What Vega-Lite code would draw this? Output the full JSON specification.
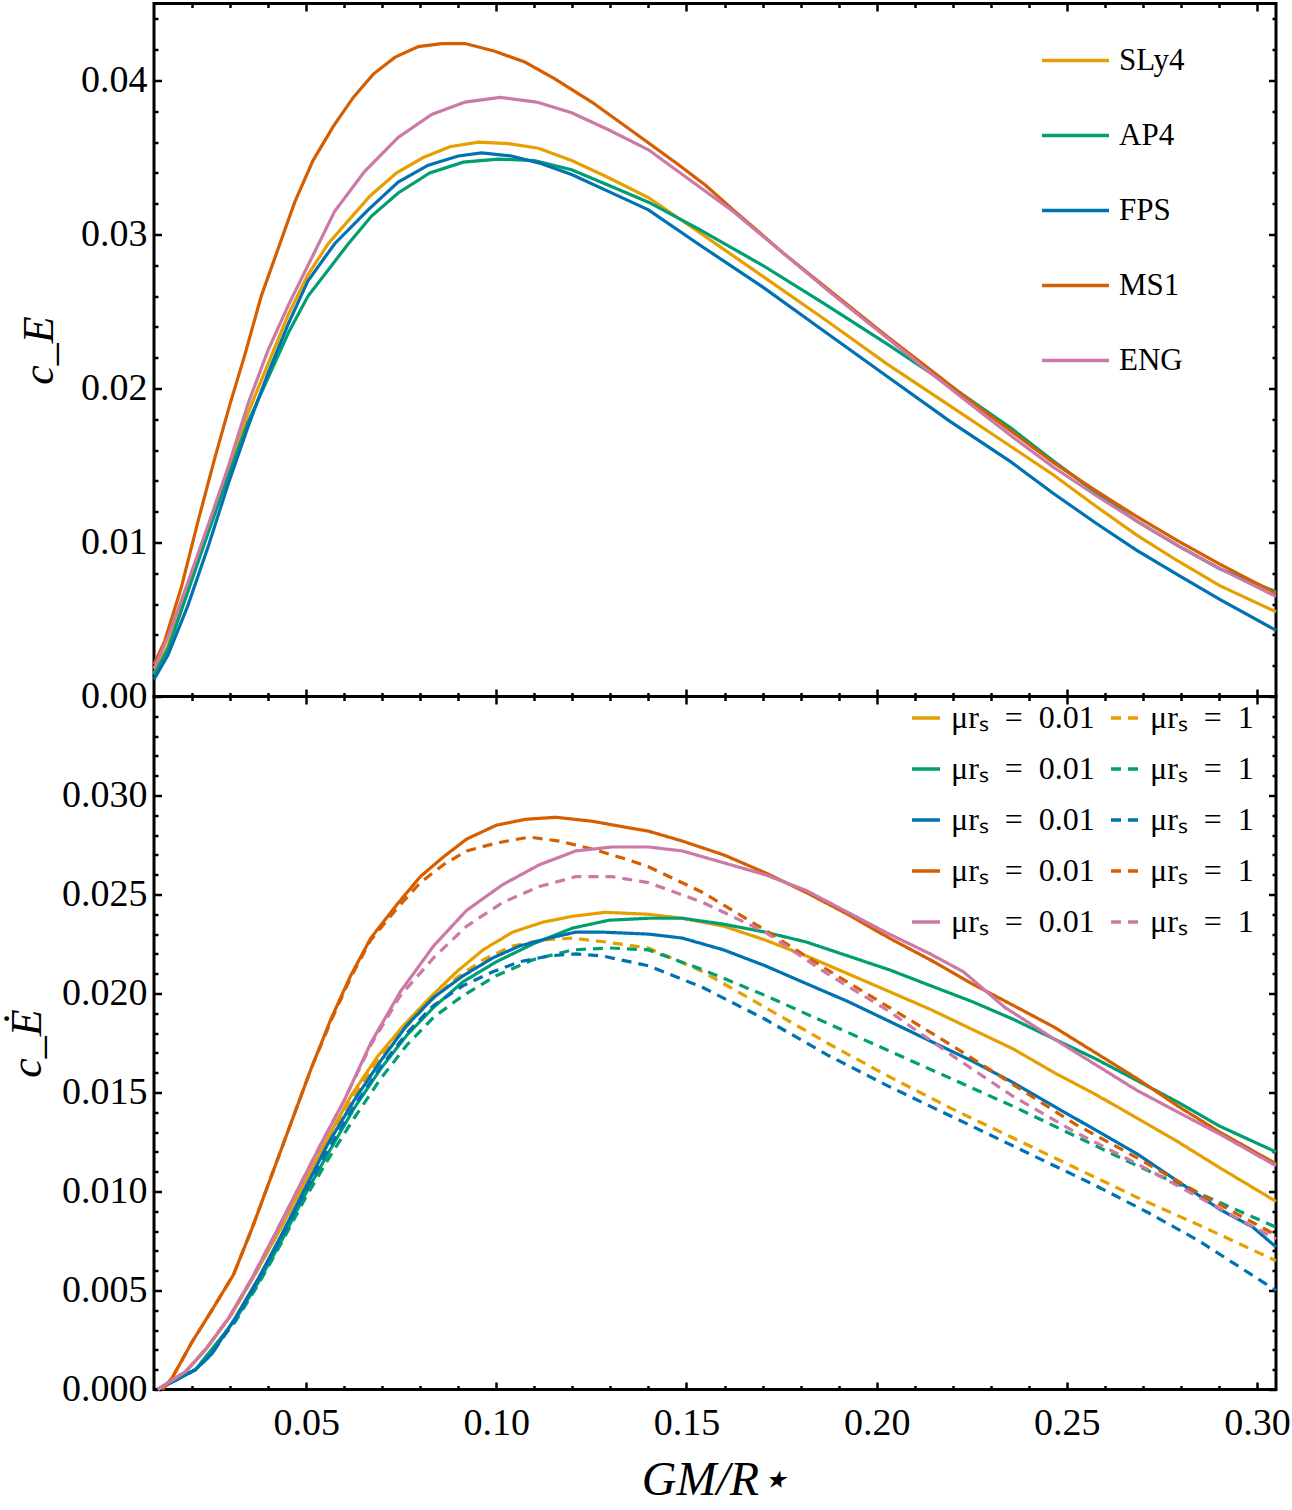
{
  "$schema": "https://vega.github.io/schema/vega-lite/v6.json",
  "padding": {"left": 4, "top": 0.5, "right": 5, "bottom": 5},
  "background": "white",
  "spacing": 0,
  "bounds": "flush",
  "config": {
    "view": {"stroke": "black", "strokeWidth": 3},
    "font": "Liberation Serif",
    "axis": {"grid": false, "domain": false, "labelFont": "Liberation Serif", "labelFontSize": 38, "labelColor": "black", "tickColor": "black", "titleColor": "black", "titleFont": "Liberation Serif", "titleFontWeight": "normal", "labelFlush": false, "labelOverlap": false},
    "legend": {"labelFont": "Liberation Serif", "labelColor": "black", "title": null, "padding": 0}
  },
  "resolve": {"scale": {"x": "independent", "y": "independent", "color": "independent", "strokeDash": "independent"}},
  "datasets": {
    "top": [
      {"eos":"SLy4","x":0.010,"v":0.0015},{"eos":"SLy4","x":0.0137,"v":0.0033},{"eos":"SLy4","x":0.0189,"v":0.0071},{"eos":"SLy4","x":0.0242,"v":0.0108},{"eos":"SLy4","x":0.0295,"v":0.0146},{"eos":"SLy4","x":0.0347,"v":0.0184},{"eos":"SLy4","x":0.040,"v":0.0216},{"eos":"SLy4","x":0.0453,"v":0.0248},{"eos":"SLy4","x":0.0505,"v":0.0274},{"eos":"SLy4","x":0.0558,"v":0.0294},{"eos":"SLy4","x":0.0611,"v":0.0309},{"eos":"SLy4","x":0.0668,"v":0.0325},{"eos":"SLy4","x":0.0738,"v":0.0340},{"eos":"SLy4","x":0.0808,"v":0.0350},{"eos":"SLy4","x":0.0878,"v":0.0357},{"eos":"SLy4","x":0.0953,"v":0.0360},{"eos":"SLy4","x":0.1032,"v":0.0359},{"eos":"SLy4","x":0.1111,"v":0.0356},{"eos":"SLy4","x":0.1198,"v":0.0348},{"eos":"SLy4","x":0.1286,"v":0.0338},{"eos":"SLy4","x":0.140,"v":0.0324},{"eos":"SLy4","x":0.1536,"v":0.0301},{"eos":"SLy4","x":0.170,"v":0.0273},{"eos":"SLy4","x":0.1863,"v":0.0245},{"eos":"SLy4","x":0.2027,"v":0.0216},{"eos":"SLy4","x":0.2191,"v":0.0189},{"eos":"SLy4","x":0.2355,"v":0.0162},{"eos":"SLy4","x":0.2464,"v":0.0144},{"eos":"SLy4","x":0.2574,"v":0.0124},{"eos":"SLy4","x":0.2683,"v":0.0105},{"eos":"SLy4","x":0.2792,"v":0.0088},{"eos":"SLy4","x":0.2902,"v":0.0072},{"eos":"SLy4","x":0.305,"v":0.0055},
      {"eos":"AP4","x":0.010,"v":0.0014},{"eos":"AP4","x":0.0137,"v":0.0031},{"eos":"AP4","x":0.0189,"v":0.0068},{"eos":"AP4","x":0.0242,"v":0.0106},{"eos":"AP4","x":0.0295,"v":0.0143},{"eos":"AP4","x":0.0347,"v":0.0178},{"eos":"AP4","x":0.040,"v":0.0207},{"eos":"AP4","x":0.0453,"v":0.0236},{"eos":"AP4","x":0.0505,"v":0.0260},{"eos":"AP4","x":0.0558,"v":0.0277},{"eos":"AP4","x":0.0611,"v":0.0294},{"eos":"AP4","x":0.0672,"v":0.0312},{"eos":"AP4","x":0.0742,"v":0.0327},{"eos":"AP4","x":0.0825,"v":0.0340},{"eos":"AP4","x":0.0913,"v":0.0347},{"eos":"AP4","x":0.1005,"v":0.0349},{"eos":"AP4","x":0.110,"v":0.0348},{"eos":"AP4","x":0.1198,"v":0.0342},{"eos":"AP4","x":0.1295,"v":0.0332},{"eos":"AP4","x":0.140,"v":0.0321},{"eos":"AP4","x":0.1536,"v":0.0303},{"eos":"AP4","x":0.170,"v":0.0280},{"eos":"AP4","x":0.1863,"v":0.0255},{"eos":"AP4","x":0.2027,"v":0.0229},{"eos":"AP4","x":0.2191,"v":0.0202},{"eos":"AP4","x":0.2355,"v":0.0174},{"eos":"AP4","x":0.2464,"v":0.0153},{"eos":"AP4","x":0.2574,"v":0.0133},{"eos":"AP4","x":0.2683,"v":0.0114},{"eos":"AP4","x":0.2792,"v":0.0098},{"eos":"AP4","x":0.2902,"v":0.0083},{"eos":"AP4","x":0.305,"v":0.0068},
      {"eos":"FPS","x":0.010,"v":0.0011},{"eos":"FPS","x":0.0137,"v":0.0027},{"eos":"FPS","x":0.0189,"v":0.0059},{"eos":"FPS","x":0.0242,"v":0.0097},{"eos":"FPS","x":0.0295,"v":0.0138},{"eos":"FPS","x":0.0347,"v":0.0175},{"eos":"FPS","x":0.040,"v":0.0210},{"eos":"FPS","x":0.0453,"v":0.0242},{"eos":"FPS","x":0.0505,"v":0.0270},{"eos":"FPS","x":0.0575,"v":0.0294},{"eos":"FPS","x":0.0663,"v":0.0316},{"eos":"FPS","x":0.0742,"v":0.0334},{"eos":"FPS","x":0.0821,"v":0.0345},{"eos":"FPS","x":0.090,"v":0.0351},{"eos":"FPS","x":0.0961,"v":0.0353},{"eos":"FPS","x":0.104,"v":0.0351},{"eos":"FPS","x":0.1119,"v":0.0346},{"eos":"FPS","x":0.1198,"v":0.0339},{"eos":"FPS","x":0.1286,"v":0.0329},{"eos":"FPS","x":0.140,"v":0.0316},{"eos":"FPS","x":0.1536,"v":0.0293},{"eos":"FPS","x":0.170,"v":0.0266},{"eos":"FPS","x":0.1863,"v":0.0237},{"eos":"FPS","x":0.2027,"v":0.0208},{"eos":"FPS","x":0.2191,"v":0.0179},{"eos":"FPS","x":0.2355,"v":0.0152},{"eos":"FPS","x":0.2464,"v":0.0132},{"eos":"FPS","x":0.2574,"v":0.0113},{"eos":"FPS","x":0.2683,"v":0.0095},{"eos":"FPS","x":0.2792,"v":0.0079},{"eos":"FPS","x":0.2902,"v":0.0063},{"eos":"FPS","x":0.305,"v":0.0043},
      {"eos":"MS1","x":0.010,"v":0.0021},{"eos":"MS1","x":0.0128,"v":0.0036},{"eos":"MS1","x":0.0172,"v":0.0071},{"eos":"MS1","x":0.0216,"v":0.0114},{"eos":"MS1","x":0.026,"v":0.0155},{"eos":"MS1","x":0.030,"v":0.0190},{"eos":"MS1","x":0.0339,"v":0.0222},{"eos":"MS1","x":0.0382,"v":0.0260},{"eos":"MS1","x":0.0431,"v":0.0294},{"eos":"MS1","x":0.047,"v":0.0321},{"eos":"MS1","x":0.0518,"v":0.0348},{"eos":"MS1","x":0.0571,"v":0.0370},{"eos":"MS1","x":0.0624,"v":0.0389},{"eos":"MS1","x":0.0676,"v":0.0404},{"eos":"MS1","x":0.0733,"v":0.0415},{"eos":"MS1","x":0.0795,"v":0.0422},{"eos":"MS1","x":0.0856,"v":0.0424},{"eos":"MS1","x":0.0918,"v":0.0424},{"eos":"MS1","x":0.0996,"v":0.0419},{"eos":"MS1","x":0.1075,"v":0.0412},{"eos":"MS1","x":0.1154,"v":0.0401},{"eos":"MS1","x":0.1251,"v":0.0386},{"eos":"MS1","x":0.1347,"v":0.0369},{"eos":"MS1","x":0.1481,"v":0.0345},{"eos":"MS1","x":0.155,"v":0.0332},{"eos":"MS1","x":0.1623,"v":0.0316},{"eos":"MS1","x":0.1754,"v":0.0288},{"eos":"MS1","x":0.1885,"v":0.0262},{"eos":"MS1","x":0.2027,"v":0.0234},{"eos":"MS1","x":0.2137,"v":0.0213},{"eos":"MS1","x":0.2246,"v":0.0192},{"eos":"MS1","x":0.2355,"v":0.0172},{"eos":"MS1","x":0.2464,"v":0.0152},{"eos":"MS1","x":0.2574,"v":0.0134},{"eos":"MS1","x":0.2683,"v":0.0117},{"eos":"MS1","x":0.2792,"v":0.0101},{"eos":"MS1","x":0.2902,"v":0.0086},{"eos":"MS1","x":0.305,"v":0.0067},
      {"eos":"ENG","x":0.010,"v":0.0018},{"eos":"ENG","x":0.0137,"v":0.0039},{"eos":"ENG","x":0.0189,"v":0.0074},{"eos":"ENG","x":0.0242,"v":0.0111},{"eos":"ENG","x":0.0295,"v":0.0149},{"eos":"ENG","x":0.0347,"v":0.0190},{"eos":"ENG","x":0.040,"v":0.0225},{"eos":"ENG","x":0.0453,"v":0.0254},{"eos":"ENG","x":0.0505,"v":0.0280},{"eos":"ENG","x":0.0575,"v":0.0315},{"eos":"ENG","x":0.0654,"v":0.0341},{"eos":"ENG","x":0.0742,"v":0.0363},{"eos":"ENG","x":0.083,"v":0.0378},{"eos":"ENG","x":0.0918,"v":0.0386},{"eos":"ENG","x":0.101,"v":0.0389},{"eos":"ENG","x":0.1106,"v":0.0386},{"eos":"ENG","x":0.1198,"v":0.0379},{"eos":"ENG","x":0.1295,"v":0.0368},{"eos":"ENG","x":0.140,"v":0.0355},{"eos":"ENG","x":0.150,"v":0.0337},{"eos":"ENG","x":0.1623,"v":0.0315},{"eos":"ENG","x":0.1754,"v":0.0288},{"eos":"ENG","x":0.1885,"v":0.0261},{"eos":"ENG","x":0.2027,"v":0.0233},{"eos":"ENG","x":0.2137,"v":0.0211},{"eos":"ENG","x":0.2246,"v":0.0190},{"eos":"ENG","x":0.2355,"v":0.0169},{"eos":"ENG","x":0.2464,"v":0.0149},{"eos":"ENG","x":0.2574,"v":0.0131},{"eos":"ENG","x":0.2683,"v":0.0114},{"eos":"ENG","x":0.2792,"v":0.0098},{"eos":"ENG","x":0.2902,"v":0.0083},{"eos":"ENG","x":0.305,"v":0.0065}
    ],
    "bottom": [
      {"series":"SLy4|0.01","x":0.011,"v":0},{"series":"SLy4|0.01","x":0.0183,"v":0.0009},{"series":"SLy4|0.01","x":0.0243,"v":0.0022},{"series":"SLy4|0.01","x":0.0304,"v":0.0038},{"series":"SLy4|0.01","x":0.0365,"v":0.0058},{"series":"SLy4|0.01","x":0.0426,"v":0.0079},{"series":"SLy4|0.01","x":0.0487,"v":0.0101},{"series":"SLy4|0.01","x":0.0548,"v":0.0124},{"series":"SLy4|0.01","x":0.0617,"v":0.0148},{"series":"SLy4|0.01","x":0.0687,"v":0.0168},{"series":"SLy4|0.01","x":0.0757,"v":0.0184},{"series":"SLy4|0.01","x":0.0826,"v":0.0198},{"series":"SLy4|0.01","x":0.0896,"v":0.0211},{"series":"SLy4|0.01","x":0.0965,"v":0.0222},{"series":"SLy4|0.01","x":0.1043,"v":0.0231},{"series":"SLy4|0.01","x":0.1122,"v":0.0236},{"series":"SLy4|0.01","x":0.120,"v":0.0239},{"series":"SLy4|0.01","x":0.1287,"v":0.0241},{"series":"SLy4|0.01","x":0.140,"v":0.0240},{"series":"SLy4|0.01","x":0.1489,"v":0.0238},{"series":"SLy4|0.01","x":0.1598,"v":0.0234},{"series":"SLy4|0.01","x":0.1707,"v":0.0227},{"series":"SLy4|0.01","x":0.1815,"v":0.0219},{"series":"SLy4|0.01","x":0.1924,"v":0.0210},{"series":"SLy4|0.01","x":0.2033,"v":0.0201},{"series":"SLy4|0.01","x":0.2141,"v":0.0192},{"series":"SLy4|0.01","x":0.225,"v":0.0182},{"series":"SLy4|0.01","x":0.2359,"v":0.0172},{"series":"SLy4|0.01","x":0.2467,"v":0.0160},{"series":"SLy4|0.01","x":0.2576,"v":0.0149},{"series":"SLy4|0.01","x":0.2685,"v":0.0137},{"series":"SLy4|0.01","x":0.2793,"v":0.0125},{"series":"SLy4|0.01","x":0.2902,"v":0.0112},{"series":"SLy4|0.01","x":0.305,"v":0.0095},
      {"series":"SLy4|1","x":0.011,"v":0},{"series":"SLy4|1","x":0.0183,"v":0.0009},{"series":"SLy4|1","x":0.0243,"v":0.0022},{"series":"SLy4|1","x":0.0304,"v":0.0038},{"series":"SLy4|1","x":0.0365,"v":0.0058},{"series":"SLy4|1","x":0.0426,"v":0.0079},{"series":"SLy4|1","x":0.0487,"v":0.0101},{"series":"SLy4|1","x":0.0548,"v":0.0123},{"series":"SLy4|1","x":0.0617,"v":0.0146},{"series":"SLy4|1","x":0.0687,"v":0.0166},{"series":"SLy4|1","x":0.0757,"v":0.0182},{"series":"SLy4|1","x":0.0826,"v":0.0196},{"series":"SLy4|1","x":0.0896,"v":0.0208},{"series":"SLy4|1","x":0.0965,"v":0.0217},{"series":"SLy4|1","x":0.1043,"v":0.0224},{"series":"SLy4|1","x":0.1122,"v":0.0227},{"series":"SLy4|1","x":0.120,"v":0.0228},{"series":"SLy4|1","x":0.1287,"v":0.0226},{"series":"SLy4|1","x":0.140,"v":0.0223},{"series":"SLy4|1","x":0.1543,"v":0.0211},{"series":"SLy4|1","x":0.1707,"v":0.0193},{"series":"SLy4|1","x":0.187,"v":0.0175},{"series":"SLy4|1","x":0.2033,"v":0.0158},{"series":"SLy4|1","x":0.2196,"v":0.0142},{"series":"SLy4|1","x":0.2359,"v":0.0127},{"series":"SLy4|1","x":0.2522,"v":0.0112},{"series":"SLy4|1","x":0.2685,"v":0.0097},{"series":"SLy4|1","x":0.2848,"v":0.0083},{"series":"SLy4|1","x":0.305,"v":0.0065},
      {"series":"AP4|0.01","x":0.011,"v":0},{"series":"AP4|0.01","x":0.0209,"v":0.0010},{"series":"AP4|0.01","x":0.0313,"v":0.0035},{"series":"AP4|0.01","x":0.0374,"v":0.0054},{"series":"AP4|0.01","x":0.0435,"v":0.0075},{"series":"AP4|0.01","x":0.0496,"v":0.0098},{"series":"AP4|0.01","x":0.0557,"v":0.0119},{"series":"AP4|0.01","x":0.0626,"v":0.0142},{"series":"AP4|0.01","x":0.0696,"v":0.0162},{"series":"AP4|0.01","x":0.0765,"v":0.0179},{"series":"AP4|0.01","x":0.0835,"v":0.0193},{"series":"AP4|0.01","x":0.0913,"v":0.0206},{"series":"AP4|0.01","x":0.100,"v":0.0216},{"series":"AP4|0.01","x":0.1096,"v":0.0225},{"series":"AP4|0.01","x":0.120,"v":0.0233},{"series":"AP4|0.01","x":0.1296,"v":0.0237},{"series":"AP4|0.01","x":0.140,"v":0.0238},{"series":"AP4|0.01","x":0.1489,"v":0.0238},{"series":"AP4|0.01","x":0.1598,"v":0.0235},{"series":"AP4|0.01","x":0.1707,"v":0.0231},{"series":"AP4|0.01","x":0.1815,"v":0.0226},{"series":"AP4|0.01","x":0.1924,"v":0.0219},{"series":"AP4|0.01","x":0.2033,"v":0.0212},{"series":"AP4|0.01","x":0.2141,"v":0.0204},{"series":"AP4|0.01","x":0.225,"v":0.0196},{"series":"AP4|0.01","x":0.2359,"v":0.0187},{"series":"AP4|0.01","x":0.2467,"v":0.0177},{"series":"AP4|0.01","x":0.2576,"v":0.0167},{"series":"AP4|0.01","x":0.2685,"v":0.0156},{"series":"AP4|0.01","x":0.2793,"v":0.0145},{"series":"AP4|0.01","x":0.2902,"v":0.0133},{"series":"AP4|0.01","x":0.305,"v":0.0120},
      {"series":"AP4|1","x":0.011,"v":0},{"series":"AP4|1","x":0.0209,"v":0.0010},{"series":"AP4|1","x":0.0313,"v":0.0034},{"series":"AP4|1","x":0.0374,"v":0.0053},{"series":"AP4|1","x":0.0435,"v":0.0074},{"series":"AP4|1","x":0.0496,"v":0.0096},{"series":"AP4|1","x":0.0557,"v":0.0116},{"series":"AP4|1","x":0.0626,"v":0.0137},{"series":"AP4|1","x":0.0696,"v":0.0157},{"series":"AP4|1","x":0.0765,"v":0.0174},{"series":"AP4|1","x":0.0835,"v":0.0188},{"series":"AP4|1","x":0.0913,"v":0.0199},{"series":"AP4|1","x":0.100,"v":0.0209},{"series":"AP4|1","x":0.1096,"v":0.0217},{"series":"AP4|1","x":0.120,"v":0.0222},{"series":"AP4|1","x":0.1296,"v":0.0223},{"series":"AP4|1","x":0.140,"v":0.0222},{"series":"AP4|1","x":0.1543,"v":0.0212},{"series":"AP4|1","x":0.1707,"v":0.0199},{"series":"AP4|1","x":0.187,"v":0.0185},{"series":"AP4|1","x":0.2033,"v":0.0171},{"series":"AP4|1","x":0.2196,"v":0.0157},{"series":"AP4|1","x":0.2359,"v":0.0143},{"series":"AP4|1","x":0.2522,"v":0.0128},{"series":"AP4|1","x":0.2685,"v":0.0113},{"series":"AP4|1","x":0.2848,"v":0.0099},{"series":"AP4|1","x":0.305,"v":0.0082},
      {"series":"FPS|0.01","x":0.011,"v":0},{"series":"FPS|0.01","x":0.0209,"v":0.0010},{"series":"FPS|0.01","x":0.0252,"v":0.0018},{"series":"FPS|0.01","x":0.0313,"v":0.0036},{"series":"FPS|0.01","x":0.0374,"v":0.0056},{"series":"FPS|0.01","x":0.0435,"v":0.0078},{"series":"FPS|0.01","x":0.0496,"v":0.0101},{"series":"FPS|0.01","x":0.0557,"v":0.0124},{"series":"FPS|0.01","x":0.0626,"v":0.0146},{"series":"FPS|0.01","x":0.0696,"v":0.0166},{"series":"FPS|0.01","x":0.0765,"v":0.0184},{"series":"FPS|0.01","x":0.0835,"v":0.0198},{"series":"FPS|0.01","x":0.0913,"v":0.0209},{"series":"FPS|0.01","x":0.0991,"v":0.0218},{"series":"FPS|0.01","x":0.1061,"v":0.0224},{"series":"FPS|0.01","x":0.1139,"v":0.0228},{"series":"FPS|0.01","x":0.1209,"v":0.0231},{"series":"FPS|0.01","x":0.1278,"v":0.0231},{"series":"FPS|0.01","x":0.140,"v":0.0230},{"series":"FPS|0.01","x":0.1489,"v":0.0228},{"series":"FPS|0.01","x":0.1598,"v":0.0222},{"series":"FPS|0.01","x":0.1707,"v":0.0214},{"series":"FPS|0.01","x":0.1815,"v":0.0205},{"series":"FPS|0.01","x":0.1924,"v":0.0196},{"series":"FPS|0.01","x":0.2033,"v":0.0186},{"series":"FPS|0.01","x":0.2141,"v":0.0176},{"series":"FPS|0.01","x":0.225,"v":0.0166},{"series":"FPS|0.01","x":0.2359,"v":0.0155},{"series":"FPS|0.01","x":0.2467,"v":0.0143},{"series":"FPS|0.01","x":0.2576,"v":0.0131},{"series":"FPS|0.01","x":0.2685,"v":0.0119},{"series":"FPS|0.01","x":0.2793,"v":0.0105},{"series":"FPS|0.01","x":0.2902,"v":0.0091},{"series":"FPS|0.01","x":0.2989,"v":0.0082},{"series":"FPS|0.01","x":0.305,"v":0.0072},
      {"series":"FPS|1","x":0.011,"v":0},{"series":"FPS|1","x":0.0209,"v":0.0010},{"series":"FPS|1","x":0.0252,"v":0.0018},{"series":"FPS|1","x":0.0313,"v":0.0035},{"series":"FPS|1","x":0.0374,"v":0.0055},{"series":"FPS|1","x":0.0435,"v":0.0077},{"series":"FPS|1","x":0.0496,"v":0.0099},{"series":"FPS|1","x":0.0557,"v":0.0121},{"series":"FPS|1","x":0.0626,"v":0.0143},{"series":"FPS|1","x":0.0696,"v":0.0163},{"series":"FPS|1","x":0.0765,"v":0.0180},{"series":"FPS|1","x":0.0835,"v":0.0194},{"series":"FPS|1","x":0.0913,"v":0.0204},{"series":"FPS|1","x":0.0991,"v":0.0211},{"series":"FPS|1","x":0.1061,"v":0.0216},{"series":"FPS|1","x":0.1139,"v":0.0219},{"series":"FPS|1","x":0.1209,"v":0.0220},{"series":"FPS|1","x":0.1278,"v":0.0219},{"series":"FPS|1","x":0.140,"v":0.0214},{"series":"FPS|1","x":0.1543,"v":0.0203},{"series":"FPS|1","x":0.1707,"v":0.0187},{"series":"FPS|1","x":0.187,"v":0.0169},{"series":"FPS|1","x":0.2033,"v":0.0153},{"series":"FPS|1","x":0.2196,"v":0.0138},{"series":"FPS|1","x":0.2359,"v":0.0123},{"series":"FPS|1","x":0.2467,"v":0.0113},{"series":"FPS|1","x":0.2576,"v":0.0103},{"series":"FPS|1","x":0.2717,"v":0.0089},{"series":"FPS|1","x":0.2848,"v":0.0075},{"series":"FPS|1","x":0.305,"v":0.0050},
      {"series":"MS1|0.01","x":0.0122,"v":0},{"series":"MS1|0.01","x":0.0148,"v":0.0006},{"series":"MS1|0.01","x":0.020,"v":0.0024},{"series":"MS1|0.01","x":0.0252,"v":0.0040},{"series":"MS1|0.01","x":0.0309,"v":0.0058},{"series":"MS1|0.01","x":0.0357,"v":0.0081},{"series":"MS1|0.01","x":0.0409,"v":0.0108},{"series":"MS1|0.01","x":0.0461,"v":0.0135},{"series":"MS1|0.01","x":0.0513,"v":0.0162},{"series":"MS1|0.01","x":0.0565,"v":0.0187},{"series":"MS1|0.01","x":0.0617,"v":0.0209},{"series":"MS1|0.01","x":0.067,"v":0.0228},{"series":"MS1|0.01","x":0.0739,"v":0.0245},{"series":"MS1|0.01","x":0.080,"v":0.0259},{"series":"MS1|0.01","x":0.0861,"v":0.0269},{"series":"MS1|0.01","x":0.0922,"v":0.0278},{"series":"MS1|0.01","x":0.100,"v":0.0285},{"series":"MS1|0.01","x":0.1078,"v":0.0288},{"series":"MS1|0.01","x":0.1157,"v":0.0289},{"series":"MS1|0.01","x":0.1252,"v":0.0287},{"series":"MS1|0.01","x":0.1339,"v":0.0284},{"series":"MS1|0.01","x":0.140,"v":0.0282},{"series":"MS1|0.01","x":0.1489,"v":0.0277},{"series":"MS1|0.01","x":0.1598,"v":0.0270},{"series":"MS1|0.01","x":0.1707,"v":0.0261},{"series":"MS1|0.01","x":0.1815,"v":0.0251},{"series":"MS1|0.01","x":0.1924,"v":0.0240},{"series":"MS1|0.01","x":0.2033,"v":0.0228},{"series":"MS1|0.01","x":0.2141,"v":0.0217},{"series":"MS1|0.01","x":0.225,"v":0.0205},{"series":"MS1|0.01","x":0.2359,"v":0.0194},{"series":"MS1|0.01","x":0.2467,"v":0.0183},{"series":"MS1|0.01","x":0.2576,"v":0.0170},{"series":"MS1|0.01","x":0.2685,"v":0.0157},{"series":"MS1|0.01","x":0.2793,"v":0.0143},{"series":"MS1|0.01","x":0.2902,"v":0.0130},{"series":"MS1|0.01","x":0.305,"v":0.0114},
      {"series":"MS1|1","x":0.0122,"v":0},{"series":"MS1|1","x":0.0148,"v":0.0006},{"series":"MS1|1","x":0.020,"v":0.0024},{"series":"MS1|1","x":0.0252,"v":0.0040},{"series":"MS1|1","x":0.0309,"v":0.0058},{"series":"MS1|1","x":0.0357,"v":0.0081},{"series":"MS1|1","x":0.0409,"v":0.0108},{"series":"MS1|1","x":0.0461,"v":0.0135},{"series":"MS1|1","x":0.0513,"v":0.0162},{"series":"MS1|1","x":0.0565,"v":0.0186},{"series":"MS1|1","x":0.0617,"v":0.0208},{"series":"MS1|1","x":0.067,"v":0.0227},{"series":"MS1|1","x":0.0739,"v":0.0243},{"series":"MS1|1","x":0.080,"v":0.0256},{"series":"MS1|1","x":0.0861,"v":0.0265},{"series":"MS1|1","x":0.0922,"v":0.0272},{"series":"MS1|1","x":0.100,"v":0.0276},{"series":"MS1|1","x":0.1087,"v":0.0279},{"series":"MS1|1","x":0.1165,"v":0.0277},{"series":"MS1|1","x":0.1252,"v":0.0273},{"series":"MS1|1","x":0.1339,"v":0.0268},{"series":"MS1|1","x":0.140,"v":0.0264},{"series":"MS1|1","x":0.1543,"v":0.0251},{"series":"MS1|1","x":0.1707,"v":0.0232},{"series":"MS1|1","x":0.187,"v":0.0212},{"series":"MS1|1","x":0.2033,"v":0.0193},{"series":"MS1|1","x":0.2196,"v":0.0174},{"series":"MS1|1","x":0.2359,"v":0.0154},{"series":"MS1|1","x":0.2522,"v":0.0134},{"series":"MS1|1","x":0.2685,"v":0.0117},{"series":"MS1|1","x":0.2848,"v":0.0099},{"series":"MS1|1","x":0.305,"v":0.0078},
      {"series":"ENG|0.01","x":0.011,"v":0},{"series":"ENG|0.01","x":0.0183,"v":0.0009},{"series":"ENG|0.01","x":0.0235,"v":0.0020},{"series":"ENG|0.01","x":0.0296,"v":0.0036},{"series":"ENG|0.01","x":0.0357,"v":0.0056},{"series":"ENG|0.01","x":0.0417,"v":0.0078},{"series":"ENG|0.01","x":0.0478,"v":0.0101},{"series":"ENG|0.01","x":0.0539,"v":0.0124},{"series":"ENG|0.01","x":0.060,"v":0.0146},{"series":"ENG|0.01","x":0.067,"v":0.0175},{"series":"ENG|0.01","x":0.0748,"v":0.0201},{"series":"ENG|0.01","x":0.0835,"v":0.0224},{"series":"ENG|0.01","x":0.0922,"v":0.0242},{"series":"ENG|0.01","x":0.1017,"v":0.0255},{"series":"ENG|0.01","x":0.1113,"v":0.0265},{"series":"ENG|0.01","x":0.1209,"v":0.0272},{"series":"ENG|0.01","x":0.1304,"v":0.0274},{"series":"ENG|0.01","x":0.140,"v":0.0274},{"series":"ENG|0.01","x":0.1489,"v":0.0272},{"series":"ENG|0.01","x":0.1598,"v":0.0266},{"series":"ENG|0.01","x":0.1707,"v":0.0260},{"series":"ENG|0.01","x":0.1815,"v":0.0252},{"series":"ENG|0.01","x":0.1924,"v":0.0241},{"series":"ENG|0.01","x":0.2033,"v":0.0230},{"series":"ENG|0.01","x":0.2141,"v":0.0220},{"series":"ENG|0.01","x":0.2228,"v":0.0211},{"series":"ENG|0.01","x":0.2337,"v":0.0193},{"series":"ENG|0.01","x":0.2467,"v":0.0177},{"series":"ENG|0.01","x":0.2576,"v":0.0164},{"series":"ENG|0.01","x":0.2685,"v":0.0151},{"series":"ENG|0.01","x":0.2793,"v":0.0140},{"series":"ENG|0.01","x":0.2902,"v":0.0129},{"series":"ENG|0.01","x":0.305,"v":0.0113},
      {"series":"ENG|1","x":0.011,"v":0},{"series":"ENG|1","x":0.0183,"v":0.0009},{"series":"ENG|1","x":0.0235,"v":0.0020},{"series":"ENG|1","x":0.0296,"v":0.0036},{"series":"ENG|1","x":0.0357,"v":0.0056},{"series":"ENG|1","x":0.0417,"v":0.0078},{"series":"ENG|1","x":0.0478,"v":0.0101},{"series":"ENG|1","x":0.0539,"v":0.0124},{"series":"ENG|1","x":0.060,"v":0.0146},{"series":"ENG|1","x":0.067,"v":0.0174},{"series":"ENG|1","x":0.0748,"v":0.0199},{"series":"ENG|1","x":0.0835,"v":0.0218},{"series":"ENG|1","x":0.0922,"v":0.0234},{"series":"ENG|1","x":0.1017,"v":0.0246},{"series":"ENG|1","x":0.1113,"v":0.0254},{"series":"ENG|1","x":0.1209,"v":0.0259},{"series":"ENG|1","x":0.1304,"v":0.0259},{"series":"ENG|1","x":0.140,"v":0.0256},{"series":"ENG|1","x":0.1543,"v":0.0246},{"series":"ENG|1","x":0.1707,"v":0.0231},{"series":"ENG|1","x":0.187,"v":0.0210},{"series":"ENG|1","x":0.2033,"v":0.0191},{"series":"ENG|1","x":0.2196,"v":0.0169},{"series":"ENG|1","x":0.2359,"v":0.0148},{"series":"ENG|1","x":0.2522,"v":0.0130},{"series":"ENG|1","x":0.2685,"v":0.0114},{"series":"ENG|1","x":0.2848,"v":0.0097},{"series":"ENG|1","x":0.305,"v":0.0076}
    ]
  },
  "vconcat": [
    {
      "width": 1122, "height": 693,
      "data": {"name": "top"},
      "resolve": {"axis": {"x": "independent", "y": "independent"}},
      "layer": [
        {
          "mark": {"type": "line", "strokeWidth": 3.2},
          "encoding": {
            "x": {"field": "x", "type": "quantitative", "scale": {"domain": [0.01, 0.305], "nice": false, "zero": false}, "axis": null},
            "y": {"field": "v", "type": "quantitative", "scale": {"domain": [0, 0.045], "nice": false},
                  "axis": {"orient": "left", "ticks": false, "values": [0, 0.01, 0.02, 0.03, 0.04], "format": ".2f", "labelPadding": 7, "title": "c_E", "titleFontStyle": "italic", "titleFontSize": 44, "titlePadding": 19}},
            "color": {"field": "eos", "type": "nominal", "sort": null,
                      "scale": {"domain": ["SLy4", "AP4", "FPS", "MS1", "ENG"], "range": ["#E69F00", "#009E73", "#0072B2", "#D55E00", "#CC79A7"]},
                      "legend": {"orient": "none", "legendX": 886, "legendY": 21.5, "symbolType": "stroke", "symbolSize": 4489, "symbolStrokeWidth": 3.5, "labelFont": "Liberation Serif", "labelFontSize": 31, "labelOffset": 8, "rowPadding": 24, "columns": 1}}
          }
        },
        {
          "mark": {"type": "point", "opacity": 0},
          "encoding": {
            "x": {"field": "x", "type": "quantitative", "scale": {"domain": [0.01, 0.305], "nice": false, "zero": false},
                  "axis": {"orient": "bottom", "values": [0.05, 0.10, 0.15, 0.20, 0.25, 0.30], "labels": false, "tickSize": -7.5, "tickWidth": 2.5, "title": null}},
            "y": {"field": "v", "type": "quantitative", "scale": {"domain": [0, 0.045], "nice": false},
                  "axis": {"orient": "left", "values": [0, 0.01, 0.02, 0.03, 0.04], "labels": false, "tickSize": -7.5, "tickWidth": 2.5, "title": null}}
          }
        },
        {
          "mark": {"type": "point", "opacity": 0},
          "encoding": {
            "x": {"field": "x", "type": "quantitative", "scale": {"domain": [0.01, 0.305], "nice": false, "zero": false},
                  "axis": {"orient": "bottom", "values": [0.02,0.03,0.04,0.06,0.07,0.08,0.09,0.11,0.12,0.13,0.14,0.16,0.17,0.18,0.19,0.21,0.22,0.23,0.24,0.26,0.27,0.28,0.29], "labels": false, "tickSize": -4, "tickWidth": 2.5, "title": null}},
            "y": {"field": "v", "type": "quantitative", "scale": {"domain": [0, 0.045], "nice": false},
                  "axis": {"orient": "left", "values": [0.002,0.004,0.006,0.008,0.012,0.014,0.016,0.018,0.022,0.024,0.026,0.028,0.032,0.034,0.036,0.038,0.042,0.044], "labels": false, "tickSize": -4, "tickWidth": 2.5, "title": null}}
          }
        },
        {
          "mark": {"type": "point", "opacity": 0},
          "encoding": {
            "x": {"field": "x", "type": "quantitative", "scale": {"domain": [0.01, 0.305], "nice": false, "zero": false},
                  "axis": {"orient": "top", "values": [0.05, 0.10, 0.15, 0.20, 0.25, 0.30], "labels": false, "tickSize": -7.5, "tickWidth": 2.5, "title": null}},
            "y": {"field": "v", "type": "quantitative", "scale": {"domain": [0, 0.045], "nice": false},
                  "axis": {"orient": "right", "values": [0, 0.01, 0.02, 0.03, 0.04], "labels": false, "tickSize": -7.5, "tickWidth": 2.5, "title": null}}
          }
        },
        {
          "mark": {"type": "point", "opacity": 0},
          "encoding": {
            "x": {"field": "x", "type": "quantitative", "scale": {"domain": [0.01, 0.305], "nice": false, "zero": false},
                  "axis": {"orient": "top", "values": [0.02,0.03,0.04,0.06,0.07,0.08,0.09,0.11,0.12,0.13,0.14,0.16,0.17,0.18,0.19,0.21,0.22,0.23,0.24,0.26,0.27,0.28,0.29], "labels": false, "tickSize": -4, "tickWidth": 2.5, "title": null}},
            "y": {"field": "v", "type": "quantitative", "scale": {"domain": [0, 0.045], "nice": false},
                  "axis": {"orient": "right", "values": [0.002,0.004,0.006,0.008,0.012,0.014,0.016,0.018,0.022,0.024,0.026,0.028,0.032,0.034,0.036,0.038,0.042,0.044], "labels": false, "tickSize": -4, "tickWidth": 2.5, "title": null}}
          }
        }
      ]
    },
    {
      "width": 1122, "height": 693,
      "data": {"name": "bottom"},
      "resolve": {"axis": {"x": "independent", "y": "independent"}},
      "layer": [
        {
          "mark": {"type": "line", "strokeWidth": 3.2},
          "encoding": {
            "x": {"field": "x", "type": "quantitative", "scale": {"domain": [0.01, 0.305], "nice": false, "zero": false},
                  "axis": {"orient": "bottom", "ticks": false, "values": [0.05, 0.10, 0.15, 0.20, 0.25, 0.30], "format": ".2f", "labelPadding": 15, "title": "GM/R⋆", "titleFontStyle": "italic", "titleFontSize": 48, "titlePadding": 14}},
            "y": {"field": "v", "type": "quantitative", "scale": {"domain": [0, 0.035], "nice": false},
                  "axis": {"orient": "left", "ticks": false, "values": [0, 0.005, 0.01, 0.015, 0.02, 0.025, 0.03], "format": ".3f", "labelPadding": 7, "title": "c_Ė", "titleFontStyle": "italic", "titleFontSize": 44, "titlePadding": 12}},
            "color": {"field": "series", "type": "nominal", "sort": null,
                      "scale": {"domain": ["SLy4|0.01", "SLy4|1", "AP4|0.01", "AP4|1", "FPS|0.01", "FPS|1", "MS1|0.01", "MS1|1", "ENG|0.01", "ENG|1"],
                                "range": ["#E69F00", "#E69F00", "#009E73", "#009E73", "#0072B2", "#0072B2", "#D55E00", "#D55E00", "#CC79A7", "#CC79A7"]},
                      "legend": {"orient": "none", "legendX": 756, "legendY": 5.5, "direction": "horizontal", "columns": 2, "symbolType": "stroke", "symbolSize": 784, "symbolStrokeWidth": 3.5, "labelFont": "Liberation Serif", "labelFontSize": 32, "labelOffset": 9, "rowPadding": 19, "columnPadding": 9,
                                 "labelExpr": "slice(datum.value, -2) == '|1' ? 'μrₛ\u2002=\u20021' : 'μrₛ\u2002=\u20020.01'"}},
            "strokeDash": {"field": "series", "type": "nominal", "sort": null,
                      "scale": {"domain": ["SLy4|0.01", "SLy4|1", "AP4|0.01", "AP4|1", "FPS|0.01", "FPS|1", "MS1|0.01", "MS1|1", "ENG|0.01", "ENG|1"],
                                "range": [[1, 0], [10, 7], [1, 0], [10, 7], [1, 0], [10, 7], [1, 0], [10, 7], [1, 0], [10, 7]]},
                      "legend": {"orient": "none", "legendX": 756, "legendY": 5.5, "direction": "horizontal", "columns": 2, "symbolType": "stroke", "symbolSize": 784, "symbolStrokeWidth": 3.5, "labelFont": "Liberation Serif", "labelFontSize": 32, "labelOffset": 9, "rowPadding": 19, "columnPadding": 9,
                                 "labelExpr": "slice(datum.value, -2) == '|1' ? 'μrₛ\u2002=\u20021' : 'μrₛ\u2002=\u20020.01'"}}
          }
        },
        {
          "mark": {"type": "point", "opacity": 0},
          "encoding": {
            "x": {"field": "x", "type": "quantitative", "scale": {"domain": [0.01, 0.305], "nice": false, "zero": false},
                  "axis": {"orient": "bottom", "values": [0.05, 0.10, 0.15, 0.20, 0.25, 0.30], "labels": false, "tickSize": -7.5, "tickWidth": 2.5, "title": null}},
            "y": {"field": "v", "type": "quantitative", "scale": {"domain": [0, 0.035], "nice": false},
                  "axis": {"orient": "left", "values": [0, 0.005, 0.01, 0.015, 0.02, 0.025, 0.03], "labels": false, "tickSize": -7.5, "tickWidth": 2.5, "title": null}}
          }
        },
        {
          "mark": {"type": "point", "opacity": 0},
          "encoding": {
            "x": {"field": "x", "type": "quantitative", "scale": {"domain": [0.01, 0.305], "nice": false, "zero": false},
                  "axis": {"orient": "bottom", "values": [0.02,0.03,0.04,0.06,0.07,0.08,0.09,0.11,0.12,0.13,0.14,0.16,0.17,0.18,0.19,0.21,0.22,0.23,0.24,0.26,0.27,0.28,0.29], "labels": false, "tickSize": -4, "tickWidth": 2.5, "title": null}},
            "y": {"field": "v", "type": "quantitative", "scale": {"domain": [0, 0.035], "nice": false},
                  "axis": {"orient": "left", "values": [0.001,0.002,0.003,0.004,0.006,0.007,0.008,0.009,0.011,0.012,0.013,0.014,0.016,0.017,0.018,0.019,0.021,0.022,0.023,0.024,0.026,0.027,0.028,0.029,0.031,0.032,0.033,0.034], "labels": false, "tickSize": -4, "tickWidth": 2.5, "title": null}}
          }
        },
        {
          "mark": {"type": "point", "opacity": 0},
          "encoding": {
            "x": {"field": "x", "type": "quantitative", "scale": {"domain": [0.01, 0.305], "nice": false, "zero": false},
                  "axis": {"orient": "top", "values": [0.05, 0.10, 0.15, 0.20, 0.25, 0.30], "labels": false, "tickSize": -7.5, "tickWidth": 2.5, "title": null}},
            "y": {"field": "v", "type": "quantitative", "scale": {"domain": [0, 0.035], "nice": false},
                  "axis": {"orient": "right", "values": [0, 0.005, 0.01, 0.015, 0.02, 0.025, 0.03], "labels": false, "tickSize": -7.5, "tickWidth": 2.5, "title": null}}
          }
        },
        {
          "mark": {"type": "point", "opacity": 0},
          "encoding": {
            "x": {"field": "x", "type": "quantitative", "scale": {"domain": [0.01, 0.305], "nice": false, "zero": false},
                  "axis": {"orient": "top", "values": [0.02,0.03,0.04,0.06,0.07,0.08,0.09,0.11,0.12,0.13,0.14,0.16,0.17,0.18,0.19,0.21,0.22,0.23,0.24,0.26,0.27,0.28,0.29], "labels": false, "tickSize": -4, "tickWidth": 2.5, "title": null}},
            "y": {"field": "v", "type": "quantitative", "scale": {"domain": [0, 0.035], "nice": false},
                  "axis": {"orient": "right", "values": [0.001,0.002,0.003,0.004,0.006,0.007,0.008,0.009,0.011,0.012,0.013,0.014,0.016,0.017,0.018,0.019,0.021,0.022,0.023,0.024,0.026,0.027,0.028,0.029,0.031,0.032,0.033,0.034], "labels": false, "tickSize": -4, "tickWidth": 2.5, "title": null}}
          }
        }
      ]
    }
  ]
}
